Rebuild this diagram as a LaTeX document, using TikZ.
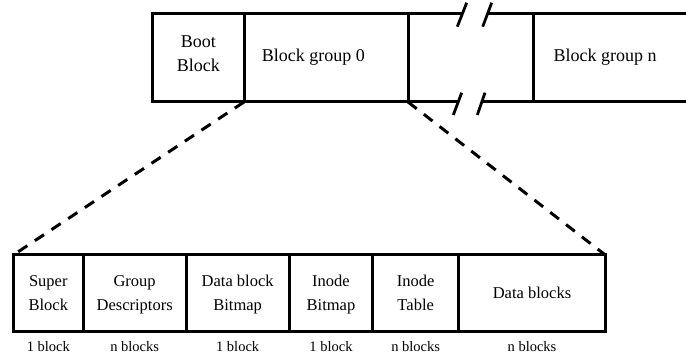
\documentclass[tikz,border=0pt]{standalone}
\usepackage{fontspec}
\setmainfont{Liberation Serif}
\begin{document}
\begin{tikzpicture}[x=1pt,y=-1pt,
  frame/.style={line width=3pt},
  topcell/.style={draw, frame, inner sep=0pt, outer sep=0pt,
    minimum height=88pt, anchor=north west},
  toptext/.style={inner sep=0pt, align=center,
    font=\fontsize{18}{24.4}\selectfont},
  cell/.style={draw, frame, inner sep=0pt, outer sep=0pt,
    minimum height=76.7pt, anchor=north west, align=center,
    font=\fontsize{16.5}{24}\selectfont},
  size/.style={anchor=base, inner sep=0pt, yshift=-20.3pt,
    font=\fontsize{14.5}{17}\selectfont},
  zoomline/.style={line width=3pt, dash pattern=on 11pt off 9pt},
  breakmark/.style={line width=2.8pt}]
\clip (0,0) rectangle (686,355);

% disk layout: boot block followed by the block groups
\node[topcell, minimum width=91.5pt] (boot) at (152.5,14) {};
\node[topcell, minimum width=164pt]  (bg0)  at (244,14) {};
\node[topcell, minimum width=170pt]  (bgn)  at (533,14) {};
\node[toptext] (boottext) at (198.3,54.6) {\strut Boot\\\strut Block};
\node[toptext, anchor=west] (bg0text) at (261.7,56.8) {\strut Block group 0};
\node[toptext, anchor=west] (bgntext) at (553.3,56.8) {\strut Block group n};

% frame across the omitted groups, broken by the cut marks
\coordinate (t1) at (462.3,14);
\coordinate (t2) at (487.7,14);
\coordinate (b1) at (458.2,102);
\coordinate (b2) at (482.2,102);
\draw[frame] (bg0.north east) -- (t1) (t2) -- (bgn.north west);
\draw[frame] (bg0.south east) -- (b1) (b2) -- (bgn.south west);
\draw[breakmark] (457.3,26.7) -- (466.7,2.7);
\draw[breakmark] (482.7,26.7) -- (491.7,2.7);
\draw[breakmark] (453.3,115) -- (461.7,92.7);
\draw[breakmark] (477.3,115) -- (485,92.7);

% contents of one block group
\node[cell, minimum width=70pt]    (sb)  at (13.3,255)  {\strut Super\\\strut Block};
\node[cell, minimum width=102.7pt] (gd)  at (83.3,255)  {\strut Group\\\strut Descriptors};
\node[cell, minimum width=103.3pt] (dbb) at (186,255)   {\strut Data block\\\strut Bitmap};
\node[cell, minimum width=83.4pt]  (ib)  at (289.3,255) {\strut Inode\\\strut Bitmap};
\node[cell, minimum width=86pt]    (it)  at (372.7,255) {\strut Inode\\\strut Table};
\node[cell, minimum width=146.6pt] (db)  at (458.7,255) {\strut Data blocks};

% sizes
\node[size] (sbsize)  at (sb.south)  {1 block};
\node[size] (gdsize)  at (gd.south)  {n blocks};
\node[size] (dbbsize) at (dbb.south) {1 block};
\node[size] (ibsize)  at (ib.south)  {1 block};
\node[size] (itsize)  at (it.south)  {n blocks};
\node[size] (dbsize)  at (db.south)  {n blocks};

% expansion lines
\draw[zoomline] (bg0.south west) -- (sb.north west);
\draw[zoomline] (bg0.south east) -- (db.north east);
\end{tikzpicture}
\end{document}
